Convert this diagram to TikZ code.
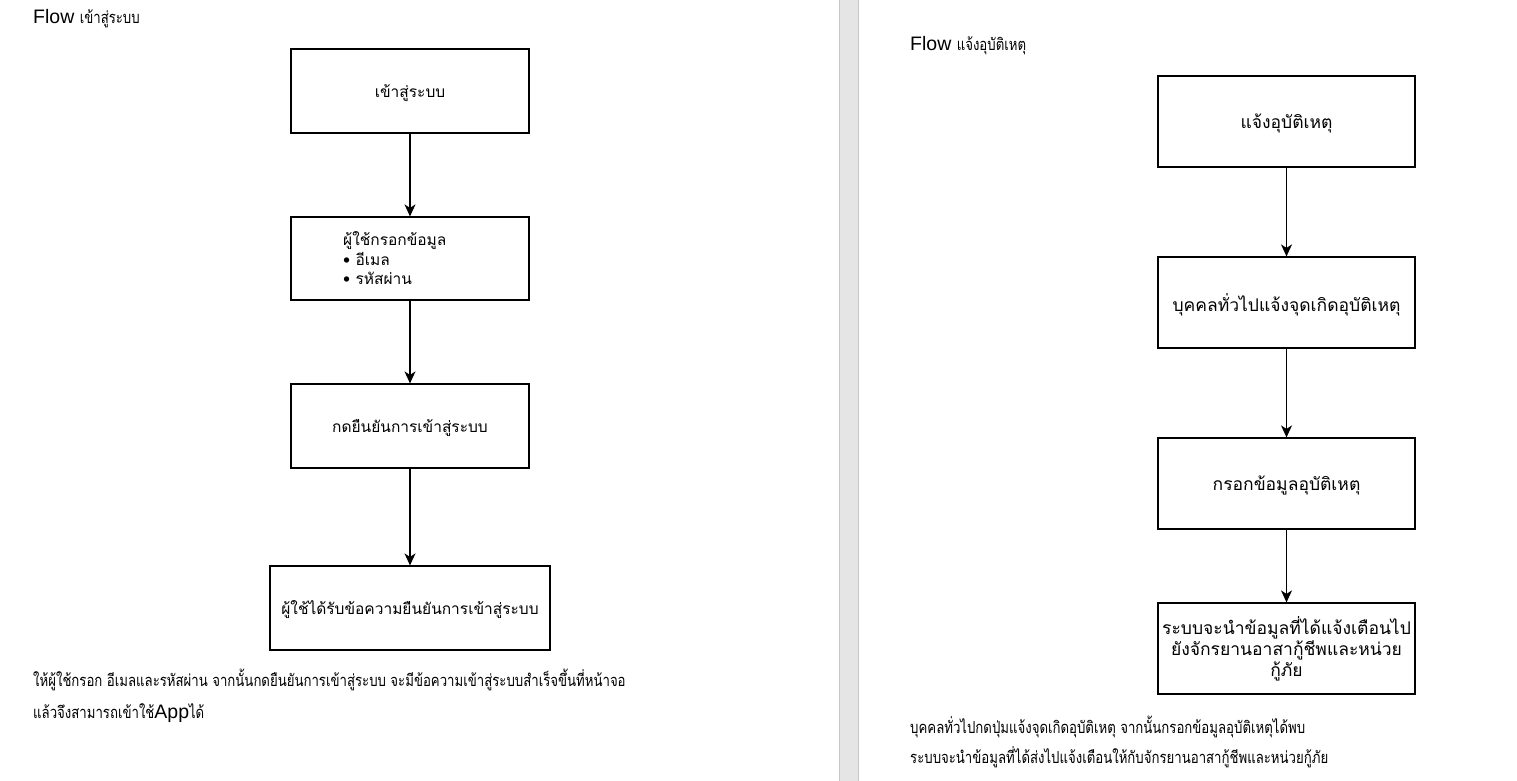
\documentclass[tikz,border=0pt]{standalone}
\usepackage{fontspec}
\setmainfont{Liberation Sans}
\newfontfamily\thai[Script=Thai]{Loma}
\newfontfamily\thainarrow[Script=Thai,FakeStretch=0.8]{Loma}
\usetikzlibrary{arrows.meta}
\newcommand\lowertxt[1]{\raisebox{0pt}[\dimexpr\height+4pt\relax]{#1}}
\tikzset{
  box/.style={draw=black, line width=1.2pt, minimum width=238pt, minimum height=84pt, inner sep=0pt, align=center, font=\thai\fontsize{15.5}{20}\selectfont},
  rbox/.style={box, minimum width=257pt, minimum height=91pt, font=\thai\fontsize{17.5}{21}\selectfont},
  flow/.style={-{Stealth[length=12pt,width=11pt,inset=3.5pt]}, line width=1.4pt},
  title/.style={anchor=base west, inner sep=0pt, font=\fontsize{19.5}{22}\selectfont},
  note/.style={anchor=base west, inner sep=0pt, font=\thainarrow\fontsize{16.5}{18}\selectfont},
}
\begin{document}
\begin{tikzpicture}[x=1pt,y=-1pt]
\useasboundingbox (0,0) rectangle (1517,781);
\fill[white] (0,0) rectangle (1517,781);
% page separator
\fill[gray!20] (839,0) rectangle (858,781);
\draw[gray!45, line width=0.8pt] (839,0) -- (839,781) (858,0) -- (858,781);

% left flow
\node[title] (t1) at (33,24) {Flow {\thainarrow\fontsize{16.5}{18}\selectfont เข้าสู่ระบบ}};
\node[box] (a1) at (410,91) {\lowertxt{เข้าสู่ระบบ}};
\node[box, minimum height=83pt] (a2) at (410,258.5) {};
\node[anchor=north west, inner sep=0pt, align=left, font=\thai\fontsize{15.5}{19.5}\selectfont] (a2t) at (343,231.5) {ผู้ใช้กรอกข้อมูล\\• อีเมล\\• รหัสผ่าน};
\node[box] (a3) at (410,426) {\lowertxt{กดยืนยันการเข้าสู่ระบบ}};
\node[box, minimum width=280pt] (a4) at (410,608) {\lowertxt{ผู้ใช้ได้รับข้อความยืนยันการเข้าสู่ระบบ}};
\draw[flow] (a1) -- (a2);
\draw[flow] (a2) -- (a3);
\draw[flow] (a3) -- (a4);
\node[note] (n1) at (33,686) {ให้ผู้ใช้กรอก อีเมลและรหัสผ่าน จากนั้นกดยืนยันการเข้าสู่ระบบ จะมีข้อความเข้าสู่ระบบสำเร็จขึ้นที่หน้าจอ};
\node[note] (n2) at (33,718) {แล้วจึงสามารถเข้าใช้{\rmfamily\fontsize{19.5}{22}\selectfont App}ได้};

% right flow
\node[title] (t2) at (910,51) {Flow {\thainarrow\fontsize{16.5}{18}\selectfont แจ้งอุบัติเหตุ}};
\node[rbox] (b1) at (1286.5,121.5) {\lowertxt{แจ้งอุบัติเหตุ}};
\node[rbox] (b2) at (1286.5,302.5) {\lowertxt{บุคคลทั่วไปแจ้งจุดเกิดอุบัติเหตุ}};
\node[rbox] (b3) at (1286.5,483.5) {\lowertxt{กรอกข้อมูลอุบัติเหตุ}};
\node[rbox] (b4) at (1286.5,648.5) {ระบบจะนำข้อมูลที่ได้แจ้งเตือนไป\\ยังจักรยานอาสากู้ชีพและหน่วย\\กู้ภัย};
\draw[flow] (b1) -- (b2);
\draw[flow] (b2) -- (b3);
\draw[flow] (b3) -- (b4);
\node[note] (n3) at (910,733) {บุคคลทั่วไปกดปุ่มแจ้งจุดเกิดอุบัติเหตุ จากนั้นกรอกข้อมูลอุบัติเหตุได้พบ};
\node[note] (n4) at (910,763) {ระบบจะนำข้อมูลที่ได้ส่งไปแจ้งเตือนให้กับจักรยานอาสากู้ชีพและหน่วยกู้ภัย};
\end{tikzpicture}
\end{document}
